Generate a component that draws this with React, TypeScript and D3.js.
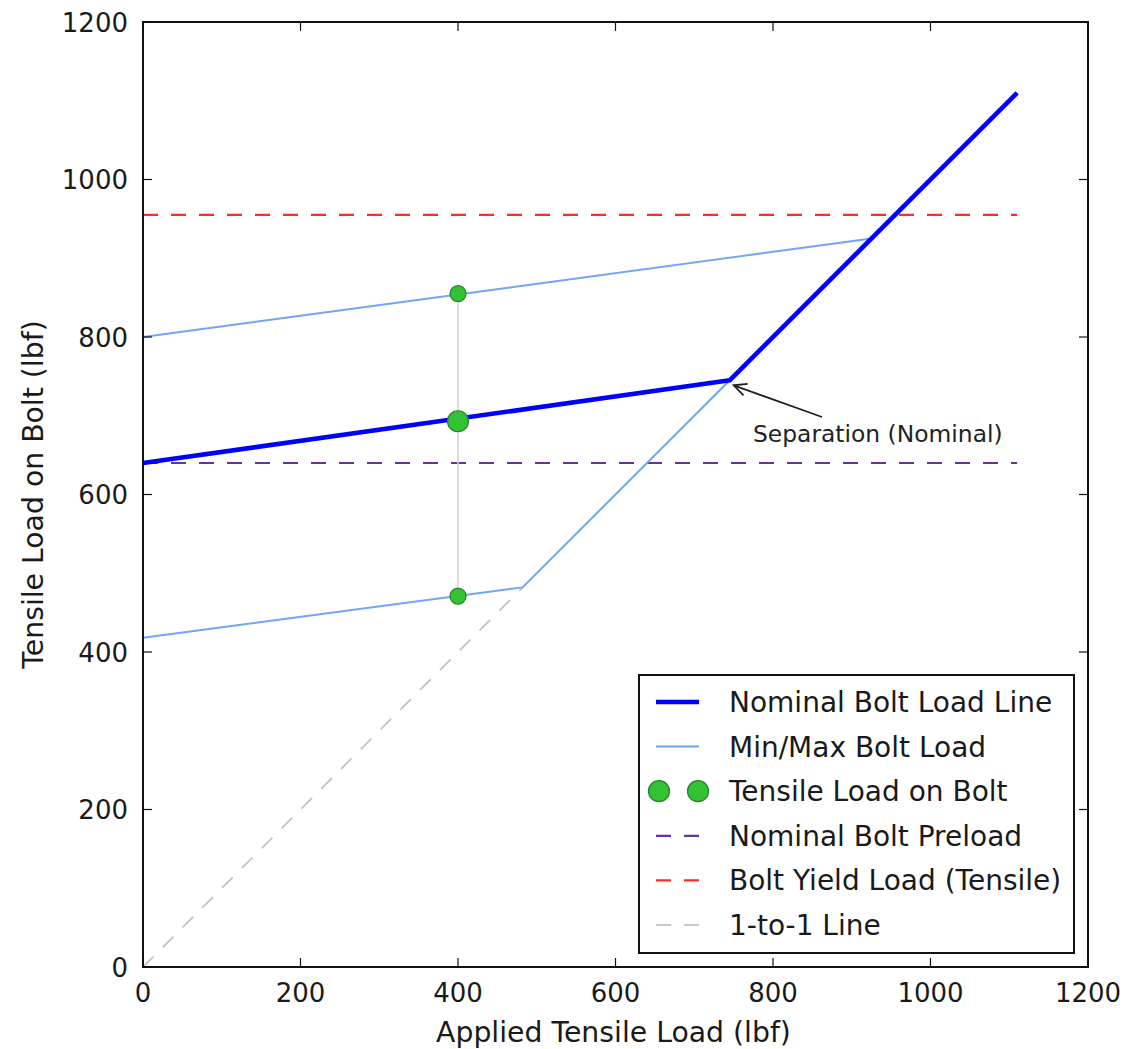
import React from "react";
import * as d3 from "d3";

const xTicks = [0, 200, 400, 600, 800, 1000, 1200];
const yTicks = [0, 200, 400, 600, 800, 1000, 1200];

const nominalX = [0, 745, 1110];
const nominalY = [640, 745, 1110];
const maxX = [0, 925, 1110];
const maxY = [800, 925, 1110];
const minX = [0, 482, 1110];
const minY = [418, 482, 1110];
const oneToOneX = [0, 482];
const oneToOneY = [0, 482];
const preloadX = [0, 1110];
const preloadY = [640, 640];
const yieldX = [0, 1110];
const yieldY = [955, 955];
const pointX = [400, 400, 400];
const pointY = [855, 693, 471];
const pointR = [8, 10.5, 8];
const separation = { x: 745, y: 745, label: "Separation (Nominal)" };

const legendItems = [
  "Nominal Bolt Load Line",
  "Min/Max Bolt Load",
  "Tensile Load on Bolt",
  "Nominal Bolt Preload",
  "Bolt Yield Load (Tensile)",
  "1-to-1 Line",
];

const FONT = "DejaVu Sans";
const NOMINAL = "#0000ff";
const MINMAX = "#6fa6f5";
const PURPLE = "#663399";
const RED = "#ff2a2a";
const GRAY1 = "#c8c8c8";
const GREEN = "#33c233";
const GREEN_EDGE = "#2a7f2a";

export default function App() {
  const x = d3.scaleLinear().domain([0, 1200]).range([143, 1088]);
  const y = d3.scaleLinear().domain([0, 1200]).range([967, 22]);
  const line = d3
    .line<[number, number]>()
    .x((d) => x(d[0]))
    .y((d) => y(d[1]));
  const pts = (xs: number[], ys: number[]) => xs.map((v, i) => [v, ys[i]] as [number, number]);

  const [x0, x1] = x.range();
  const [y0, y1] = y.range();
  const tickLen = 9;

  const ax = x(separation.x) + 4;
  const ay = y(separation.y) + 5;
  const tx = 822;
  const ty = 417;
  const ang = Math.atan2(ay - ty, ax - tx);
  const head = 14;
  const spread = 0.45;

  const lx = 639, ly = 675, lw = 435, lh = 278;
  const rowY = (i: number) => 702 + i * 44.6;
  const s0 = 656, s1 = 699;

  return (
    <div style={{ position: "absolute", left: 0, top: 0 }}>
      <svg width={1148} height={1049} style={{ display: "block", background: "#fff" }} fontFamily={FONT}>
        <rect x={0} y={0} width={1148} height={1049} fill="#fff" />
        {/* data lines */}
        <path d={line(pts(oneToOneX, oneToOneY)) || ""} fill="none" stroke={GRAY1} strokeWidth={2} strokeDasharray="15 13" />
        <path d={line(pts(preloadX, preloadY)) || ""} fill="none" stroke={PURPLE} strokeWidth={2.2} strokeDasharray="15 13" />
        <path d={line(pts(yieldX, yieldY)) || ""} fill="none" stroke={RED} strokeWidth={2.2} strokeDasharray="15 13" />
        <line x1={x(pointX[0])} x2={x(pointX[2])} y1={y(pointY[0])} y2={y(pointY[2])} stroke="#d4d4d4" strokeWidth={1.6} />
        <path d={line(pts(maxX, maxY)) || ""} fill="none" stroke={MINMAX} strokeWidth={2} />
        <path d={line(pts(minX, minY)) || ""} fill="none" stroke={MINMAX} strokeWidth={2} />
        <path d={line(pts(nominalX, nominalY)) || ""} fill="none" stroke={NOMINAL} strokeWidth={4.6} strokeLinejoin="round" />
        {pointX.map((px, i) => (
          <circle key={i} cx={x(px)} cy={y(pointY[i])} r={pointR[i]} fill={GREEN} stroke={GREEN_EDGE} strokeWidth={1.2} />
        ))}
        {/* annotation */}
        <line x1={tx} y1={ty} x2={ax} y2={ay} stroke="#222" strokeWidth={1.8} />
        <path
          d={`M${ax - head * Math.cos(ang - spread)},${ay - head * Math.sin(ang - spread)} L${ax},${ay} L${ax - head * Math.cos(ang + spread)},${ay - head * Math.sin(ang + spread)}`}
          fill="none"
          stroke="#222"
          strokeWidth={1.8}
        />
        <text x={753} y={442} fontSize={23.4} fill="#222">{separation.label}</text>

        {/* frame */}
        <rect x={x0} y={y1} width={x1 - x0} height={y0 - y1} fill="none" stroke="#111" strokeWidth={2} />
        {xTicks.map((t) => (
          <g key={"xt" + t}>
            <line x1={x(t)} x2={x(t)} y1={y0} y2={y0 - tickLen} stroke="#111" strokeWidth={1.2} />
            <line x1={x(t)} x2={x(t)} y1={y1} y2={y1 + tickLen} stroke="#111" strokeWidth={1.2} />
            <text x={x(t)} y={1002} fontSize={26} textAnchor="middle" fill="#1a1a1a">{t}</text>
          </g>
        ))}
        {yTicks.map((t) => (
          <g key={"yt" + t}>
            <line x1={x0} x2={x0 + tickLen} y1={y(t)} y2={y(t)} stroke="#111" strokeWidth={1.2} />
            <line x1={x1} x2={x1 - tickLen} y1={y(t)} y2={y(t)} stroke="#111" strokeWidth={1.2} />
            <text x={128} y={y(t) + 9.5} fontSize={26} textAnchor="end" fill="#1a1a1a">{t}</text>
          </g>
        ))}
        <text x={(x0 + x1) / 2 - 2} y={1042} fontSize={28.3} textAnchor="middle" fill="#1a1a1a">Applied Tensile Load (lbf)</text>
        <text transform={`translate(43, ${(y0 + y1) / 2}) rotate(-90)`} fontSize={28.3} textAnchor="middle" fill="#1a1a1a">Tensile Load on Bolt (lbf)</text>

        {/* legend */}
        <rect x={lx} y={ly} width={lw} height={lh} fill="#fff" stroke="#111" strokeWidth={2} />
        <line x1={s0} x2={s1} y1={rowY(0)} y2={rowY(0)} stroke={NOMINAL} strokeWidth={4.6} />
        <line x1={s0} x2={s1} y1={rowY(1)} y2={rowY(1)} stroke={MINMAX} strokeWidth={2} />
        <circle cx={659} cy={rowY(2)} r={10.5} fill={GREEN} stroke={GREEN_EDGE} strokeWidth={1.2} />
        <circle cx={698} cy={rowY(2)} r={10.5} fill={GREEN} stroke={GREEN_EDGE} strokeWidth={1.2} />
        <line x1={s0} x2={s1} y1={rowY(3)} y2={rowY(3)} stroke={PURPLE} strokeWidth={2.2} strokeDasharray="15 13" />
        <line x1={s0} x2={s1} y1={rowY(4)} y2={rowY(4)} stroke={RED} strokeWidth={2.2} strokeDasharray="15 13" />
        <line x1={s0} x2={s1} y1={rowY(5)} y2={rowY(5)} stroke={GRAY1} strokeWidth={2} strokeDasharray="15 13" />
        {legendItems.map((label, i) => (
          <text key={label} x={729} y={rowY(i) + 10} fontSize={28} fill="#1a1a1a">{label}</text>
        ))}
      </svg>
    </div>
  );
}
